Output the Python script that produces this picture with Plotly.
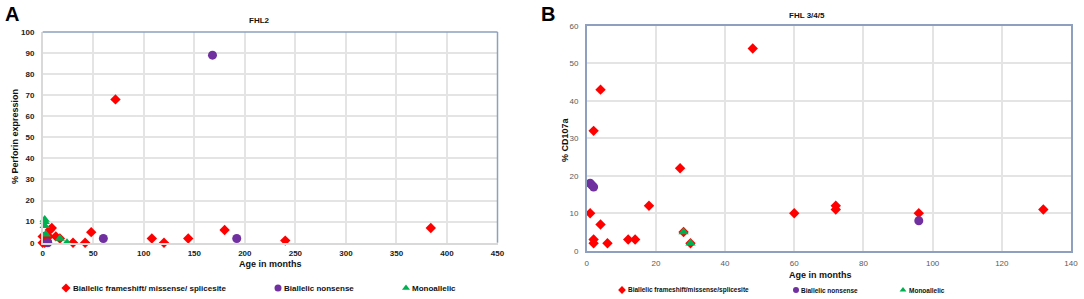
import plotly.graph_objects as go

# ---------------- Data ----------------
# Panel A: FHL2 (age in months vs % perforin expression)
a_frameshift_x = [0, 0, 2, 4, 6, 7, 9, 13, 17, 30, 42, 48, 72, 108, 120, 144, 180, 240, 384]
a_frameshift_y = [3, 0, 0, 1, 3, 6, 7, 3, 2, 0, 0, 5, 68, 2, 0, 2, 6, 1, 7]
a_nonsense_x = [5, 60, 168, 192]
a_nonsense_y = [0, 2, 89, 2]
a_mono_x = [2, 2, 2, 3, 17, 24]
a_mono_y = [11, 10, 8, 4, 2, 0]

# Panel B: FHL 3/4/5 (age in months vs % CD107a)
b_frameshift_x = [1, 2, 2, 2, 4, 4, 6, 12, 14, 18, 27, 28, 30, 48, 60, 72, 72, 96, 132]
b_frameshift_y = [10, 32, 3, 2, 43, 7, 2, 3, 3, 12, 22, 5, 2, 54, 10, 12, 11, 10, 11]
b_nonsense_x = [1, 1.5, 2, 96]
b_nonsense_y = [18, 17.5, 17, 8]
b_mono_x = [28, 30]
b_mono_y = [5, 2]

a_x_ticks = [0, 50, 100, 150, 200, 250, 300, 350, 400, 450]
a_y_ticks = [0, 10, 20, 30, 40, 50, 60, 70, 80, 90, 100]
b_x_ticks = [0, 20, 40, 60, 80, 100, 120, 140]
b_y_ticks = [0, 10, 20, 30, 40, 50, 60]

names_a = ["Biallelic frameshift/ missense/ splicesite", "Biallelic nonsense", "Monoallelic"]
names_b = ["Biallelic frameshift/missense/splicesite", "Biallelic nonsense", "Monoallelic"]

RED = "#FF0000"
PURPLE = "#7030A0"
GREEN = "#00B050"
W, H = 1084, 299

def px_x(p):
    return p / W

def px_y(p):
    return (H - p) / H

FONT = "Liberation Sans, Arial, sans-serif"
GRID = "#E4E4E4"
BORDER = "#8EA0BE"

fig = go.Figure()

panels = [
    ("x", "y", names_a,
     [(a_frameshift_x, a_frameshift_y, "diamond", 8, RED),
      (a_nonsense_x, a_nonsense_y, "circle", 9, PURPLE),
      (a_mono_x, a_mono_y, "triangle-up", 9, GREEN)],
     ["legend", "legend2", "legend3"], 7),
    ("x2", "y2", names_b,
     [(b_frameshift_x, b_frameshift_y, "diamond", 8, RED),
      (b_nonsense_x, b_nonsense_y, "circle", 9, PURPLE),
      (b_mono_x, b_mono_y, "triangle-up", 9, GREEN)],
     ["legend4", "legend5", "legend6"], 6),
]

for xa, ya, names, series, legends, lsize in panels:
    for (xs, ys, sym, size, col), name in zip(series, names):
        fig.add_trace(go.Scatter(x=xs, y=ys, mode="markers", name=name,
                                 marker=dict(symbol=sym, size=size, color=col),
                                 cliponaxis=False, xaxis=xa, yaxis=ya, showlegend=False))
    # legend key symbols (text is drawn as annotations beside them)
    for (xs, ys, sym, size, col), lg in zip(series, legends):
        fig.add_trace(go.Scatter(x=[None], y=[None], mode="markers", name="",
                                 marker=dict(symbol=sym, size=lsize, color=col),
                                 xaxis=xa, yaxis=ya, legend=lg, showlegend=True,
                                 hoverinfo="skip"))

tick_a = dict(family=FONT, size=8, color="#222222", weight="bold")
tick_b = dict(family=FONT, size=8, color="#595959")

def legend_at(marker_x, yp):
    return dict(x=px_x(marker_x - 20), y=px_y(yp), xanchor="left", yanchor="middle",
                orientation="h", bgcolor="rgba(0,0,0,0)", borderwidth=0,
                font=dict(family=FONT, size=8, color="#111111"),
                itemwidth=30, tracegroupgap=0)

fig.update_layout(
    width=W, height=H,
    margin=dict(l=0, r=0, t=0, b=0, pad=0, autoexpand=False),
    paper_bgcolor="white", plot_bgcolor="white",
    showlegend=True,
    xaxis=dict(domain=[px_x(42.7), px_x(497.5)], range=[0, 450], tickvals=a_x_ticks,
               showgrid=True, gridcolor=GRID, gridwidth=1.5, zeroline=False,
               showline=True, linecolor="#D9D9D9", linewidth=1.5,
               ticks="outside", ticklen=2, tickcolor="rgba(0,0,0,0)",
               tickfont=tick_a, anchor="y", automargin=False),
    yaxis=dict(domain=[px_y(242.7), px_y(32)], range=[0, 100], tickvals=a_y_ticks,
               showgrid=True, gridcolor=GRID, gridwidth=1.5, zeroline=False,
               showline=True, linecolor="#D9D9D9", linewidth=1.5,
               ticks="outside", ticklen=5, tickcolor="rgba(0,0,0,0)",
               tickfont=tick_a, anchor="x", automargin=False),
    xaxis2=dict(domain=[px_x(586.7), px_x(1071)], range=[0, 140], tickvals=b_x_ticks,
                showgrid=True, gridcolor=GRID, gridwidth=1.5, zeroline=False,
                showline=True, mirror=True, linecolor=BORDER, linewidth=1.5,
                ticks="outside", ticklen=4, tickcolor="rgba(0,0,0,0)",
                tickfont=tick_b, anchor="y2", automargin=False),
    yaxis2=dict(domain=[px_y(250.7), px_y(26)], range=[0, 60], tickvals=b_y_ticks,
                showgrid=True, gridcolor=GRID, gridwidth=1.5, zeroline=False,
                showline=True, mirror=True, linecolor=BORDER, linewidth=1.5,
                ticks="outside", ticklen=5, tickcolor="rgba(0,0,0,0)",
                tickfont=tick_b, anchor="x2", automargin=False),
    legend=legend_at(66, 288),
    legend2=legend_at(278, 288),
    legend3=legend_at(406, 288),
    legend4=legend_at(622, 290),
    legend5=legend_at(796, 290),
    legend6=legend_at(903, 290),
)

# Top and right borders of panel A
fig.add_shape(type="line", xref="x domain", yref="y domain", x0=0, x1=1, y0=1, y1=1,
              line=dict(color=BORDER, width=1.5))
fig.add_shape(type="line", xref="x domain", yref="y domain", x0=1, x1=1, y0=0, y1=1,
              line=dict(color=BORDER, width=1.5))

def ann(text, xp, yp, size, angle=0, color="#111111", anchor="center"):
    fig.add_annotation(text=text, x=px_x(xp), y=px_y(yp), xref="paper", yref="paper",
                       showarrow=False, textangle=angle, xanchor=anchor, yanchor="middle",
                       font=dict(family=FONT, size=size, color=color, weight="bold"))

ann("A", 12, 14, 20, color="#000000")
ann("B", 548, 14, 20, color="#000000")
ann("FHL2", 259, 21, 8)
ann("FHL 3/4/5", 807, 16, 8)
ann("% Perforin expression", 15, 137, 9, angle=-90)
ann("% CD107a", 565, 140, 9, angle=-90)
ann("Age in months", 270, 264, 9)
ann("Age in months", 820, 275, 9)

# Legend labels
for name, xp in zip(names_a, [71, 282, 410]):
    ann(name, xp, 288, 8, anchor="left")
for name, xp in zip(names_b, [626, 799, 907]):
    ann(name, xp, 290, 6.5, anchor="left")

fig.write_html("out.html", config={"displayModeBar": False},
               post_script="document.body.style.margin='0px';document.body.style.padding='0px';")
